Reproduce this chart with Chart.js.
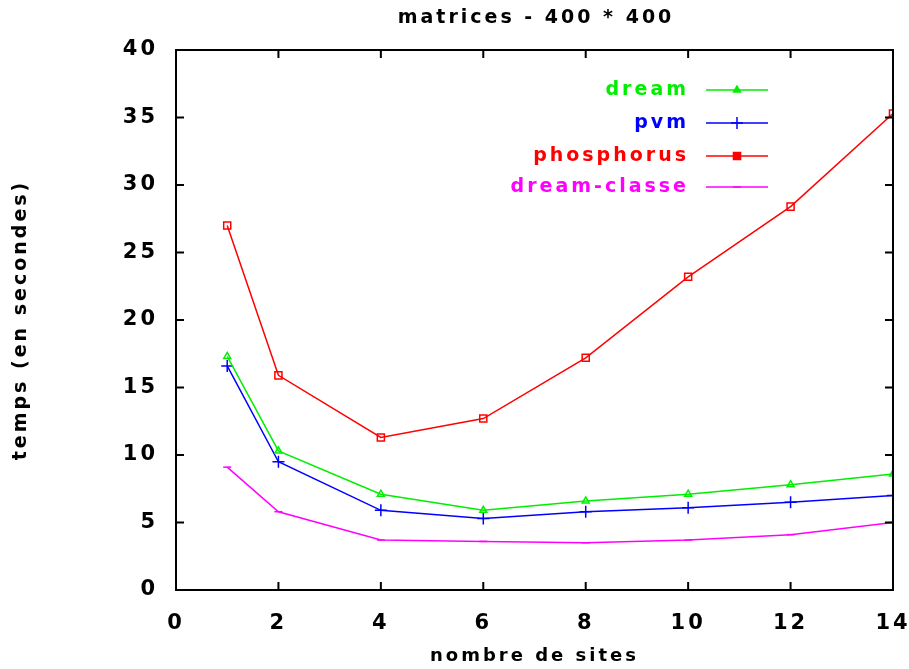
<!DOCTYPE html>
<html>
<head>
<meta charset="utf-8">
<script src="https://cdn.jsdelivr.net/npm/chart.js@4.4.1/dist/chart.umd.min.js"></script>
<style>
    html, body { margin: 0; padding: 0; background: #fff; }
    #wrap { width: 909px; height: 669px; }
</style>
</head>
<body>
<div id="wrap"><canvas id="timeChart" width="909" height="669"></canvas></div>
<script>
// data
const sites = [1, 2, 4, 6, 8, 10, 12, 14];
const dream = [17.3, 10.3, 7.1, 5.9, 6.6, 7.1, 7.8, 8.6];
const pvm = [16.6, 9.5, 5.9, 5.3, 5.8, 6.1, 6.5, 7.0];
const phosphorus = [27.0, 15.9, 11.3, 12.7, 17.2, 23.2, 28.4, 35.3];
const dreamClasse = [9.1, 5.8, 3.7, 3.6, 3.5, 3.7, 4.1, 5.0];
const seriesNames = ['dream', 'pvm', 'phosphorus', 'dream-classe'];
const xTicks = [0, 2, 4, 6, 8, 10, 12, 14];
const yTicks = [0, 5, 10, 15, 20, 25, 30, 35, 40];

const FONT = '"DejaVu Sans", sans-serif';
const SPACING = '3px';

function toPoints(values) {
    return sites.map((s, i) => ({ x: s, y: values[i] }));
}

function makeSet(label, values, color, style, radius) {
    return {
        label: label,
        data: toPoints(values),
        borderColor: color,
        backgroundColor: 'rgba(0,0,0,0)',
        pointBorderColor: color,
        pointBackgroundColor: 'rgba(0,0,0,0)',
        pointStyle: style,
        pointRadius: radius,
        pointBorderWidth: 1.5,
        borderWidth: 1.5,
        tension: 0,
        fill: false
    };
}

// wide pixel-ish lettering like the original
const spacingPlugin = {
    id: 'spacing',
    beforeLayout(chart) { chart.ctx.letterSpacing = SPACING; },
    beforeDraw(chart) { chart.ctx.letterSpacing = SPACING; }
};

// gnuplot style frame, inward ticks, legend and title
const framePlugin = {
    id: 'frame',
    afterDraw(chart) {
        const ctx = chart.ctx;
        const a = chart.chartArea;
        const xs = chart.scales.x;
        const ys = chart.scales.y;
        ctx.save();
        ctx.letterSpacing = SPACING;
        ctx.strokeStyle = '#000';
        ctx.lineWidth = 2;
        ctx.strokeRect(a.left, a.top, a.right - a.left, a.bottom - a.top);
        ctx.beginPath();
        yTicks.forEach(v => {
            const py = ys.getPixelForValue(v);
            ctx.moveTo(a.left, py); ctx.lineTo(a.left + 8, py);
            ctx.moveTo(a.right, py); ctx.lineTo(a.right - 8, py);
        });
        xTicks.forEach(v => {
            const px = xs.getPixelForValue(v);
            ctx.moveTo(px, a.bottom); ctx.lineTo(px, a.bottom - 8);
            ctx.moveTo(px, a.top); ctx.lineTo(px, a.top + 8);
        });
        ctx.stroke();

        // title
        ctx.fillStyle = '#000';
        ctx.font = 'bold 19px ' + FONT;
        ctx.textAlign = 'center';
        ctx.textBaseline = 'middle';
        ctx.fillText('matrices - 400 * 400', 536, 18);

        // legend
        const rowY = [90, 123, 156, 187];
        ctx.textAlign = 'right';
        chart.data.datasets.forEach((ds, i) => {
            const y = rowY[i];
            ctx.fillStyle = ds.borderColor;
            ctx.fillText(seriesNames[i], 689, y);
            ctx.strokeStyle = ds.borderColor;
            ctx.lineWidth = 1.5;
            ctx.beginPath();
            ctx.moveTo(706, y); ctx.lineTo(768, y);
            ctx.stroke();
            Chart.helpers.drawPoint(ctx, {
                pointStyle: ds.pointStyle,
                radius: ds.pointRadius,
                borderWidth: 1.5,
                rotation: 0
            }, 737, y);
            if (i === 2) {
                ctx.fillStyle = ds.borderColor;
                ctx.fillRect(733, y - 4, 8, 8);
            }
        });
        ctx.restore();
    }
};

new Chart(document.getElementById('timeChart').getContext('2d'), {
    type: 'line',
    data: {
        datasets: [
            makeSet('dream', dream, '#00ee00', 'triangle', 4),
            makeSet('pvm', pvm, '#0000ff', 'cross', 6),
            makeSet('phosphorus', phosphorus, '#ff0000', 'rect', 5),
            makeSet('dream-classe', dreamClasse, '#ff00ff', 'line', 4)
        ]
    },
    options: {
        responsive: false,
        animation: false,
        layout: { padding: { left: 10, right: 16, top: 50, bottom: 0 } },
        plugins: {
            legend: { display: false },
            title: { display: false },
            tooltip: { enabled: false }
        },
        scales: {
            x: {
                type: 'linear',
                min: 0,
                max: 14,
                afterBuildTicks: s => { s.ticks = xTicks.map(v => ({ value: v })); },
                afterFit: s => { s.height = 79; s.paddingLeft = 0; s.paddingRight = 0; },
                grid: { display: false, drawTicks: false },
                border: { display: true, color: '#000', width: 2 },
                ticks: { color: '#000', padding: 21, font: { family: FONT, size: 21, weight: 'bold' } },
                title: {
                    display: true,
                    text: 'nombre de sites',
                    color: '#000',
                    padding: { top: 0, bottom: 2 },
                    font: { family: FONT, size: 18, weight: 'bold' }
                }
            },
            y: {
                min: 0,
                max: 40,
                afterBuildTicks: s => { s.ticks = yTicks.map(v => ({ value: v })); },
                afterFit: s => { s.width = 166; s.paddingTop = 0; s.paddingBottom = 0; },
                grid: { display: false, drawTicks: false },
                border: { display: true, color: '#000', width: 2 },
                ticks: { color: '#000', padding: 18, font: { family: FONT, size: 21, weight: 'bold' } },
                title: {
                    display: true,
                    text: 'temps (en secondes)',
                    color: '#000',
                    padding: { top: 0, bottom: 0 },
                    font: { family: FONT, size: 19, weight: 'bold' }
                }
            }
        }
    },
    plugins: [spacingPlugin, framePlugin]
});
</script>
</body>
</html>
